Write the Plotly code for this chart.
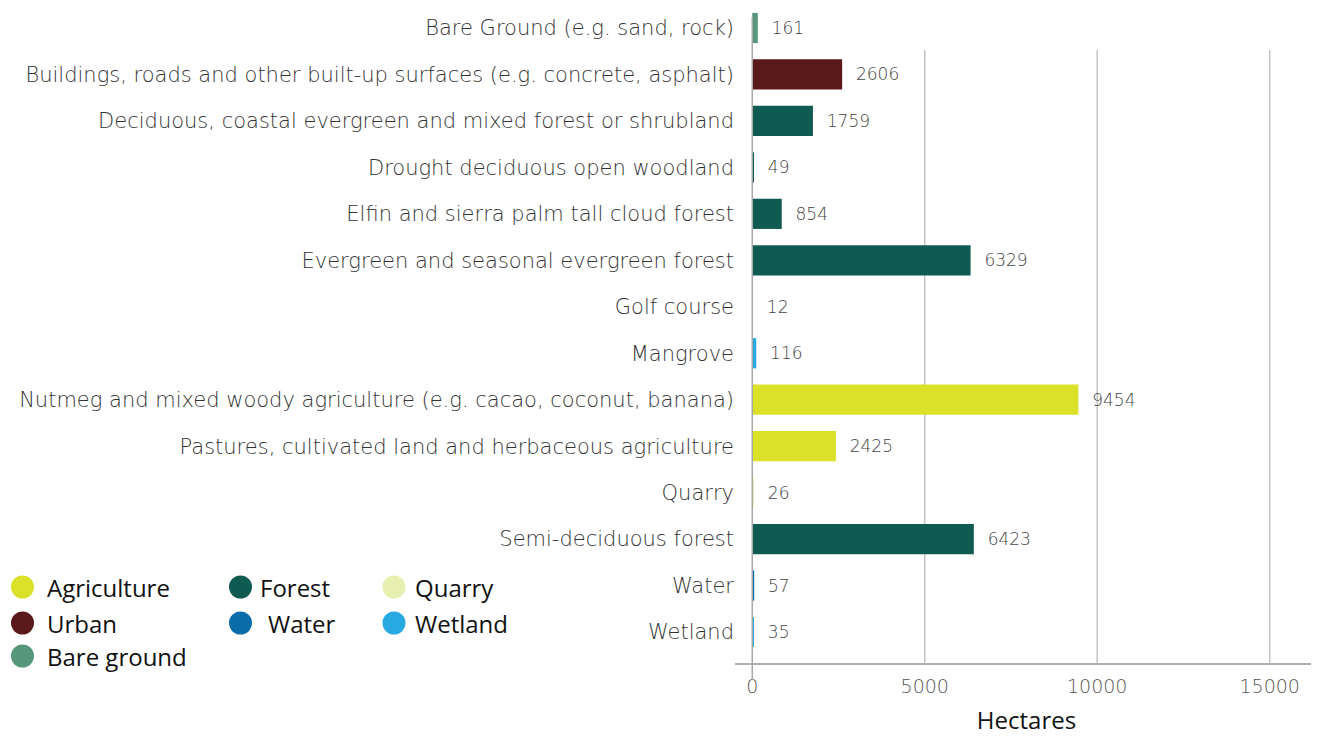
import plotly.graph_objects as go

# land cover classes, top to bottom
categories = [
    "Bare Ground (e.g. sand, rock)",
    "Buildings, roads and other built-up surfaces (e.g. concrete, asphalt)",
    "Deciduous, coastal evergreen and mixed forest or shrubland",
    "Drought deciduous open woodland",
    "Elfin and sierra palm tall cloud forest",
    "Evergreen and seasonal evergreen forest",
    "Golf course",
    "Mangrove",
    "Nutmeg and mixed woody agriculture (e.g. cacao, coconut, banana)",
    "Pastures, cultivated land and herbaceous agriculture",
    "Quarry",
    "Semi-deciduous forest",
    "Water",
    "Wetland",
]
hectares = [161, 2606, 1759, 49, 854, 6329, 12, 116, 9454, 2425, 26, 6423, 57, 35]
groups = ["Bare ground", "Urban", "Forest", "Forest", "Forest", "Forest", "Urban",
          "Wetland", "Agriculture", "Agriculture", "Quarry", "Forest", "Water", "Wetland"]

legend_names = ["Agriculture", "Forest", "Quarry", "Urban", "Water", "Wetland", "Bare ground"]
group_colors = {
    "Agriculture": "#dae128",
    "Forest": "#0f5a51",
    "Quarry": "#e7efb1",
    "Urban": "#5a1a1b",
    "Water": "#0a6ca9",
    "Wetland": "#27aae1",
    "Bare ground": "#56967b",
}
x_ticks = [0, 5000, 10000, 15000]

LABEL_FONT = "DejaVu Sans"
BOLD_FONT = "Open Sans"
OFF = 8  # page body margin
W, H = 1319 - OFF, 736 - OFF
ML, MR, MT, MB = 735 - OFF, 1, 0, 73
PW, PH = W - ML - MR, H - MT - MB
ROW = 46.46


def py(page_y):
    return (H - MB - (page_y - OFF)) / PH


def px(page_x):
    return (page_x - OFF - ML) / PW


fig = go.Figure()

for g in legend_names:
    idx = [i for i, gg in enumerate(groups) if gg == g]
    if not idx:
        continue
    fig.add_trace(go.Bar(
        y=[categories[i] for i in idx],
        x=[hectares[i] for i in idx],
        orientation="h",
        name=g,
        marker=dict(color=group_colors[g], line=dict(width=0)),
        text=["\u00a0\u00a0" + str(hectares[i]) for i in idx],
        textposition="outside",
        textfont=dict(family=LABEL_FONT, size=17, color="#444444", weight=300),
        cliponaxis=False,
        showlegend=False,
    ))

# gridlines stop short of the top row, zero line runs full height
shapes = []
for t in x_ticks[1:]:
    shapes.append(dict(type="line", xref="x", yref="paper", x0=t, x1=t,
                       y0=0, y1=py(50),
                       line=dict(color="#c4c4c4", width=1.5), layer="below"))
shapes.append(dict(type="line", xref="x", yref="paper", x0=0, x1=0,
                   y0=py(680), y1=py(17),
                   line=dict(color="#a8a8a8", width=1.5), layer="above"))

# custom legend: three columns of dots with labels
col_dot = [22.5, 240.5, 394]
col_txt = [45, 258, 413]
row_y = [587, 623, 656]
annotations = []
for k, name in enumerate(legend_names):
    r, c = divmod(k, 3)
    shapes.append(dict(type="circle", xref="paper", yref="paper",
                       xsizemode="pixel", ysizemode="pixel",
                       xanchor=px(col_dot[c]), yanchor=py(row_y[r]),
                       x0=-11.5, x1=11.5, y0=-11.5, y1=11.5,
                       fillcolor=group_colors[name], line=dict(width=0)))
    tx = col_txt[c] + (8 if name == "Water" else 0)
    annotations.append(dict(text=name, xref="paper", yref="paper",
                            x=px(tx), y=py(row_y[r]), xanchor="left", yanchor="middle",
                            showarrow=False,
                            font=dict(family=BOLD_FONT, size=24, color="#111111", weight=500)))

fig.update_layout(
    width=W, height=H,
    margin=dict(l=ML, r=MR, t=MT, b=MB, autoexpand=False),
    plot_bgcolor="white", paper_bgcolor="white",
    barmode="relative", bargap=0.35,
    shapes=shapes, annotations=annotations,
    font=dict(family=LABEL_FONT),
    xaxis=dict(range=[-500, 16400], tickvals=x_ticks, tickformat="d",
               showgrid=False, zeroline=False, automargin=False,
               showline=True, linecolor="#b0b0b0", linewidth=1.5,
               tickfont=dict(family=LABEL_FONT, size=19, color="#555555", weight=300),
               ticklabelstandoff=5,
               title=dict(text="Hectares", standoff=18,
                          font=dict(family=BOLD_FONT, size=24, color="#111111", weight=500))),
    yaxis=dict(categoryorder="array", categoryarray=categories,
               range=[13 + (H - MB - (632 - OFF)) / ROW, -(28 - OFF) / ROW],
               showgrid=False, zeroline=False, showline=False, automargin=False,
               tickfont=dict(family=LABEL_FONT, size=21, color="#333333", weight=300),
               ticklabelstandoff=0),
)

fig.write_html("out.html")
